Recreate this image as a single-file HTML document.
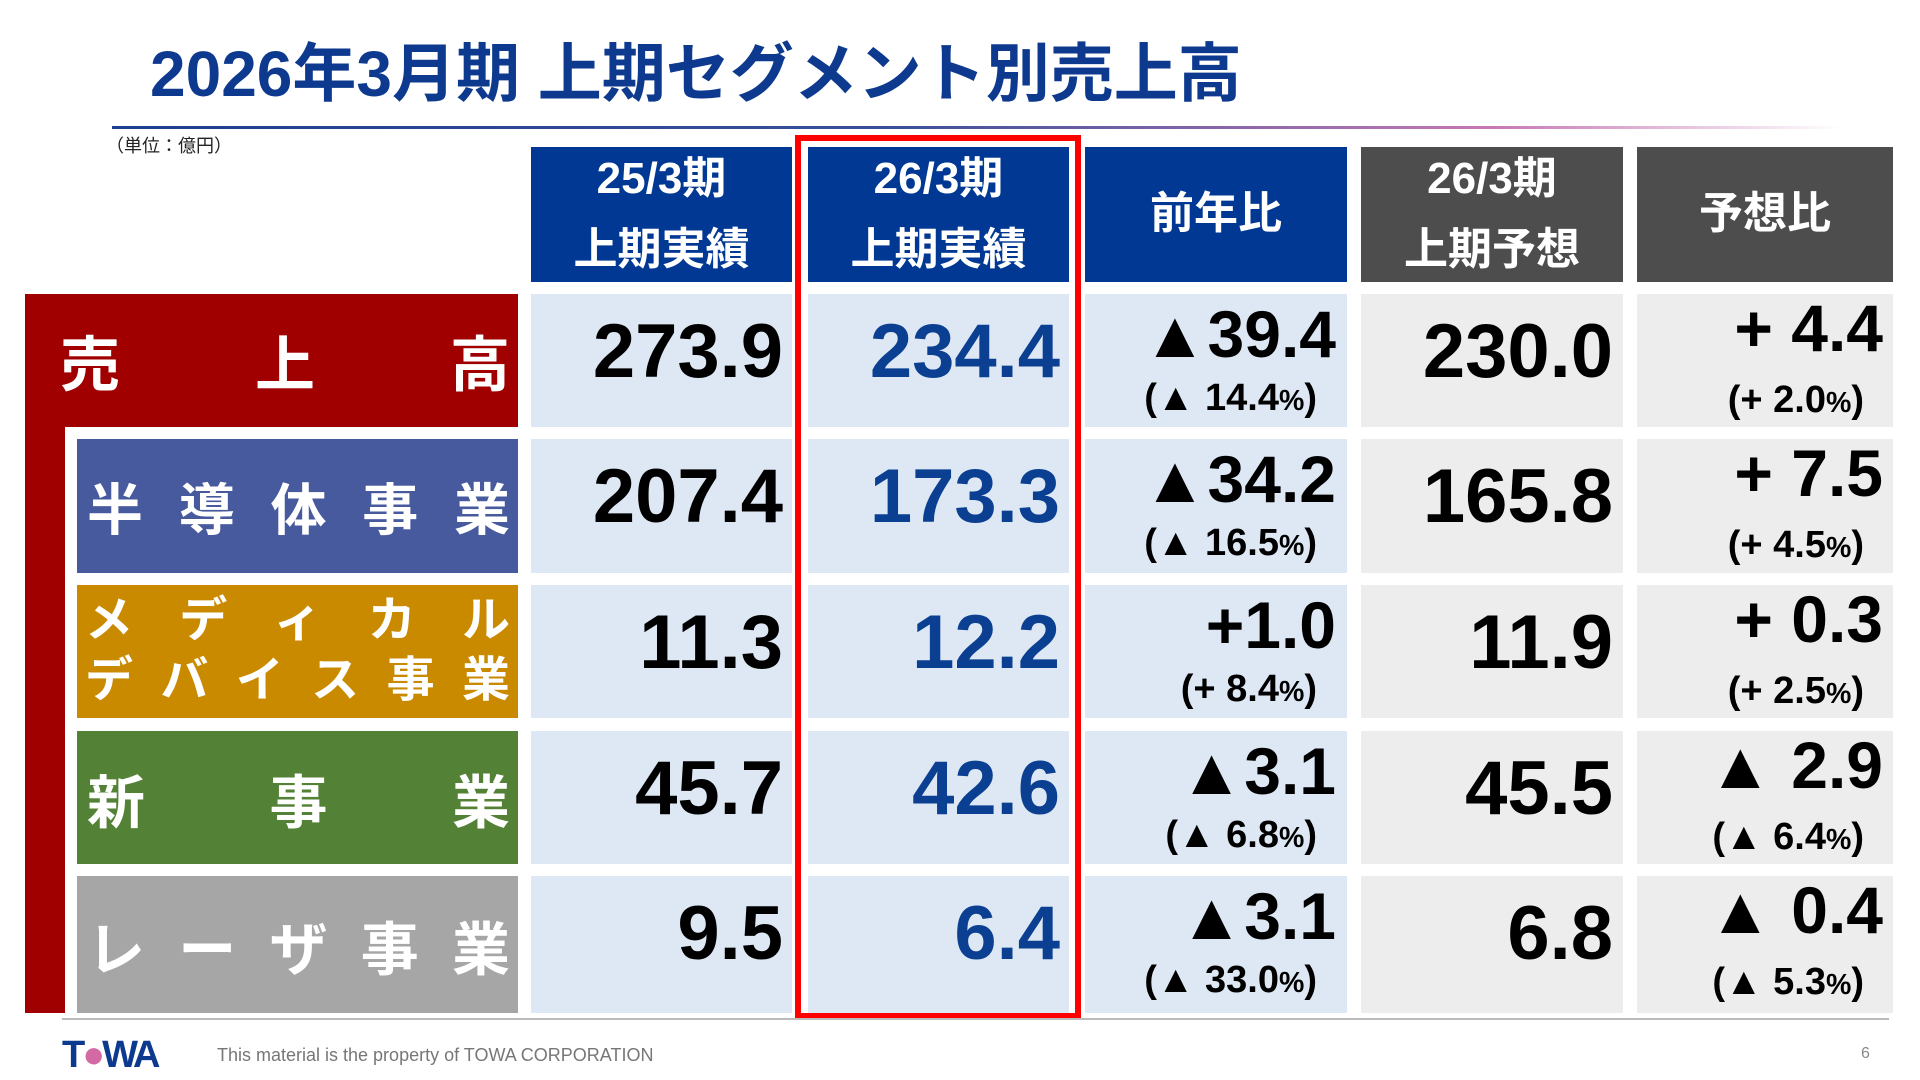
<!DOCTYPE html>
<html><head><meta charset="utf-8"><style>
*{margin:0;padding:0;box-sizing:border-box}
body{width:1920px;height:1080px;background:#fff;position:relative;overflow:hidden;font-family:"Liberation Sans","Noto Sans CJK JP",sans-serif;font-weight:bold}
.a{position:absolute}
.t{line-height:1;white-space:nowrap}
.hd{position:absolute;color:#fff;display:flex;flex-direction:column;justify-content:center;align-items:center;font-size:44px;line-height:1.6}
.lb{position:absolute;color:#fff;display:flex;justify-content:space-between;align-items:center;font-size:60px;padding:0 8px 0 10px}
</style></head><body>
<div class="a t" style="left:150px;top:42px;font-size:64px;color:#0d3a8e">2026年3月期 上期セグメント別売上高</div>
<div class="a" style="left:112px;top:126px;width:1730px;height:3px;background:linear-gradient(90deg,#1d3f8f 0%,#3a4f9a 45%,#c779b5 80%,rgba(255,255,255,0) 100%)"></div>
<div class="a t" style="left:106px;top:137px;font-size:18px;font-weight:normal;color:#222">（単位：億円）</div>

<div class="hd" style="left:531px;top:147px;width:261px;height:135px;background:#003893"><span>25/3期</span><span>上期実績</span></div>
<div class="hd" style="left:808px;top:147px;width:261px;height:135px;background:#003893"><span>26/3期</span><span>上期実績</span></div>
<div class="hd" style="left:1085px;top:147px;width:262px;height:135px;background:#003893"><span>前年比</span></div>
<div class="hd" style="left:1361px;top:147px;width:262px;height:135px;background:#4d4d4d"><span>26/3期</span><span>上期予想</span></div>
<div class="hd" style="left:1637px;top:147px;width:256px;height:135px;background:#4d4d4d"><span>予想比</span></div>

<div class="a" style="left:25px;top:294px;width:40px;height:719px;background:#a00000"></div>
<div class="lb" style="left:25px;top:294px;width:493px;height:133px;background:#a00000;padding-left:35px"><span>売</span><span>上</span><span>高</span></div>
<div class="lb" style="left:77px;top:439px;width:441px;height:134px;background:#475a9e;font-size:56px"><span>半</span><span>導</span><span>体</span><span>事</span><span>業</span></div>
<div class="a" style="left:77px;top:585px;width:441px;height:133px;background:#c98a00;color:#fff;font-size:48px;padding:6px 8px 0 8px">
<div style="display:flex;justify-content:space-between;line-height:60px"><span>メ</span><span>デ</span><span>ィ</span><span>カ</span><span>ル</span></div>
<div style="display:flex;justify-content:space-between;line-height:60px"><span>デ</span><span>バ</span><span>イ</span><span>ス</span><span>事</span><span>業</span></div></div>
<div class="lb" style="left:77px;top:731px;width:441px;height:133px;background:#538135;font-size:58px"><span>新</span><span>事</span><span>業</span></div>
<div class="lb" style="left:77px;top:876px;width:441px;height:137px;background:#a6a6a6;font-size:58px"><span>レ</span><span>ー</span><span>ザ</span><span>事</span><span>業</span></div>

<div id="g"></div>
<script>
var rows=[294,439,585,731,876],hs=[133,134,133,133,137];
var cols=[[531,261,'#dde8f4'],[808,261,'#dde8f4'],[1085,262,'#dde8f4'],[1361,262,'#ededed'],[1637,256,'#ededed']];
var d=[["273.9","234.4","▲39.4","(▲ 14.4%)","230.0","+ 4.4","(+ 2.0%)"],
["207.4","173.3","▲34.2","(▲ 16.5%)","165.8","+ 7.5","(+ 4.5%)"],
["11.3","12.2","+1.0","(+ 8.4%)","11.9","+ 0.3","(+ 2.5%)"],
["45.7","42.6","▲3.1","(▲ 6.8%)","45.5","▲ 2.9","(▲ 6.4%)"],
["9.5","6.4","▲3.1","(▲ 33.0%)","6.8","▲ 0.4","(▲ 5.3%)"]];
var h='';
function tx(right,base,fs,col,s){var top=base-0.85*fs;h+='<div class="a t" style="right:'+(1920-right)+'px;top:'+top+'px;font-size:'+fs+'px;color:'+col+'">'+s.replace('%','<span style="font-size:0.75em">%</span>')+'</div>';}
for(var i=0;i<5;i++){var r=rows[i];
for(var j=0;j<5;j++)h+='<div class="a" style="left:'+cols[j][0]+'px;top:'+r+'px;width:'+cols[j][1]+'px;height:'+hs[i]+'px;background:'+cols[j][2]+'"></div>';
tx(783,r+85,76,'#000',d[i][0]);tx(1060,r+85,76,'#0b3f91',d[i][1]);
tx(1336,r+63,66,'#000',d[i][2]);tx(1317,r+117,38,'#000',d[i][3]);
tx(1613,r+85,76,'#000',d[i][4]);tx(1883,r+57,66,'#000',d[i][5]);tx(1864,r+119,38,'#000',d[i][6]);}
document.getElementById('g').innerHTML=h;
</script>
<div class="a" style="left:795px;top:135px;width:286px;height:884px;border:6px solid #f00"></div>
<div class="a" style="left:62px;top:1018px;width:1827px;height:2px;background:#bbb"></div>
<div class="a t" style="left:62px;top:1036px;font-size:38px;color:#0d3a8e;letter-spacing:-3px;font-weight:900">T<span style="color:#d46aa5">●</span>WA</div>
<div class="a t" style="left:217px;top:1046px;font-size:18px;font-weight:normal;color:#777">This material is the property of TOWA CORPORATION</div>
<div class="a t" style="left:1861px;top:1046px;font-size:16px;font-weight:normal;color:#888">6</div>
</body></html>
